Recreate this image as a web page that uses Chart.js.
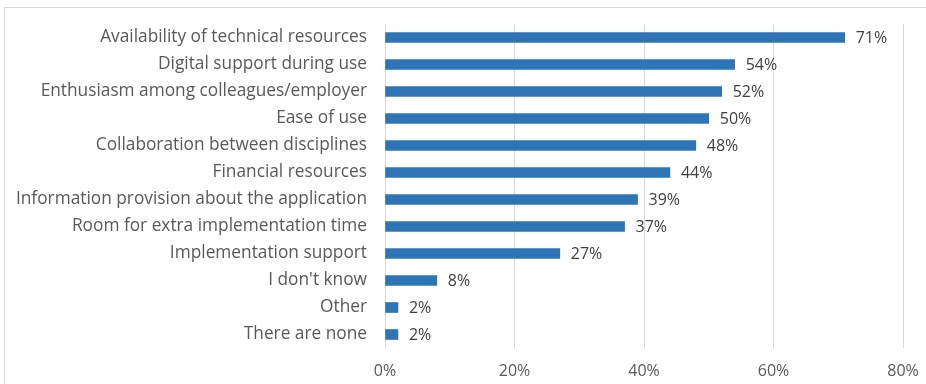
<!DOCTYPE html>
<html>
<head>
<meta charset="utf-8">
<script src="https://cdn.jsdelivr.net/npm/chart.js@4"></script>
<style>
  html, body { margin: 0; padding: 0; background: #fff; }
  .frame {
    position: absolute; left: 4px; top: 7px; right: 0; bottom: 0;
    border-top: 1px solid #d9d9d9; border-left: 1px solid #d9d9d9;
  }
  .wrap { position: absolute; left: 0; top: 0; width: 926px; height: 384px; }
</style>
</head>
<body>
<div class="frame"></div>
<div class="wrap"><canvas id="c"></canvas></div>
<script>
// survey answers, top row first
const labels = [
  'Availability of technical resources',
  'Digital support during use',
  'Enthusiasm among colleagues/employer',
  'Ease of use',
  'Collaboration between disciplines',
  'Financial resources',
  'Information provision about the application',
  'Room for extra implementation time',
  'Implementation support',
  "I don't know",
  'Other',
  'There are none',
];
const shares = [71, 54, 52, 50, 48, 44, 39, 37, 27, 8, 2, 2];
const xTicks = [0, 20, 40, 60, 80];

const FONT = '"Open Sans", Arial, sans-serif';

// value labels to the right of each bar
const barLabels = {
  id: 'barLabels',
  afterDatasetsDraw(chart) {
    const { ctx } = chart;
    const meta = chart.getDatasetMeta(0);
    ctx.save();
    ctx.font = '16px ' + FONT;
    ctx.fillStyle = '#404040';
    ctx.textAlign = 'left';
    ctx.textBaseline = 'middle';
    meta.data.forEach((bar, i) => {
      ctx.fillText(shares[i] + '%', bar.x + 11, bar.y + 1);
    });
    ctx.restore();
  },
};

new Chart(document.getElementById('c'), {
  type: 'bar',
  data: {
    labels,
    datasets: [{
      data: shares,
      backgroundColor: '#2E75B6',
      barThickness: 10,
    }],
  },
  options: {
    indexAxis: 'y',
    responsive: true,
    maintainAspectRatio: false,
    animation: false,
    layout: { padding: { top: 24, right: 23, left: 0, bottom: 0 } },
    scales: {
      x: {
        min: 0, max: 80,
        afterBuildTicks: s => { s.ticks = xTicks.map(v => ({ value: v })); },
        afterFit: s => { s.height = 36; s.paddingLeft = 0; s.paddingRight = 0; },
        grid: { color: '#d9d9d9', drawTicks: false },
        border: { display: false },
        ticks: {
          padding: 14,
          color: '#595959',
          font: { family: FONT, size: 16 },
          callback: v => v + '%',
        },
      },
      y: {
        afterFit: s => { s.width = 385; s.paddingTop = 0; s.paddingBottom = 0; },
        grid: { display: false, drawTicks: false },
        border: { display: true, color: '#d9d9d9' },
        ticks: {
          padding: 18,
          color: '#595959',
          font: { family: FONT, size: 17.3 },
        },
      },
    },
    plugins: {
      legend: { display: false },
      tooltip: { enabled: false },
    },
  },
  plugins: [barLabels],
});
</script>
</body>
</html>
